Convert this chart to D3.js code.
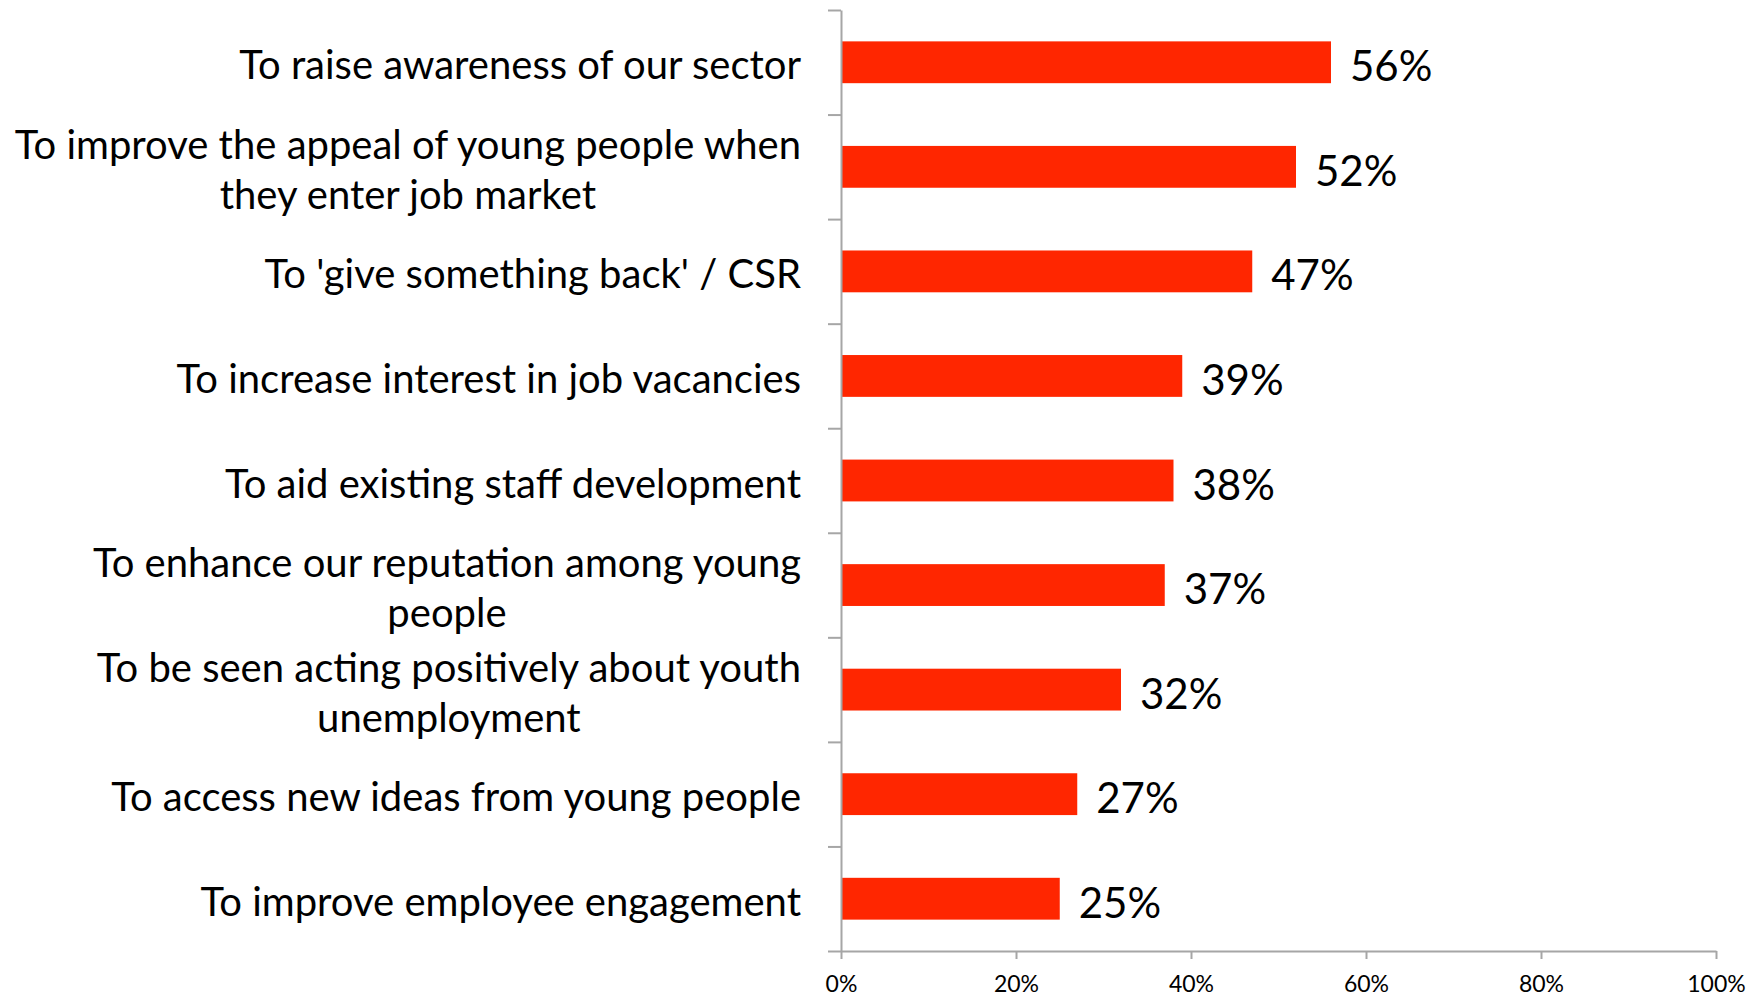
<!DOCTYPE html>
<html>
<head>
<meta charset="utf-8">
<script src="https://cdn.jsdelivr.net/npm/d3@7"></script>
<style>
  html, body { margin: 0; padding: 0; background: #fff; }
  svg { display: block; }
  .cat { font-family: Lato, "Open Sans", sans-serif; font-size: 40px; fill: #000; }
  .val { font-family: Lato, "Open Sans", sans-serif; font-size: 42px; fill: #000; }
  .axis text { font-family: Lato, "Open Sans", sans-serif; font-size: 23px; fill: #000; }
  .axis path, .axis line { stroke: #a6a6a6; stroke-width: 2; }
</style>
</head>
<body>
<svg id="chart" width="1760" height="998"></svg>
<script>
// Reasons for engaging with young people, share of respondents
const categories = [
  ["To raise awareness of our sector"],
  ["To improve the appeal of young people when", "they enter job market"],
  ["To 'give something back' / CSR"],
  ["To increase interest in job vacancies"],
  ["To aid existing staff development"],
  ["To enhance our reputation among young", "people"],
  ["To be seen acting positively about youth", "unemployment"],
  ["To access new ideas from young people"],
  ["To improve employee engagement"]
];
const values = [0.56, 0.52, 0.47, 0.39, 0.38, 0.37, 0.32, 0.27, 0.25];
const xTicks = [0, 0.2, 0.4, 0.6, 0.8, 1.0];

const svg = d3.select("#chart");
const plot = { left: 841, right: 1716, top: 10, bottom: 951 };
const keys = categories.map(c => c.join(" "));

const x = d3.scaleLinear().domain([0, 1]).range([plot.left, plot.right]);
const y = d3.scaleBand().domain(keys).range([plot.top, plot.bottom])
  .paddingInner(0.6).paddingOuter(0.3);
// category boundaries for the left axis ticks
const yEdge = d3.scaleLinear().domain([0, keys.length]).range([plot.top, plot.bottom]);

// bars
svg.append("g").selectAll("rect")
  .data(values)
  .join("rect")
  .attr("x", x(0))
  .attr("y", (d, i) => y(keys[i]))
  .attr("width", d => x(d) - x(0))
  .attr("height", y.bandwidth())
  .attr("fill", "#ff2600");

// value labels
svg.append("g").selectAll("text")
  .data(values)
  .join("text")
  .attr("class", "val")
  .attr("x", d => x(d) + 19)
  .attr("y", (d, i) => y(keys[i]) + y.bandwidth() / 2 + 19)
  .text(d => d3.format(".0%")(d));

// left axis: line with ticks at each category boundary
svg.append("g")
  .attr("class", "axis")
  .attr("transform", `translate(${plot.left},0)`)
  .call(d3.axisLeft(yEdge).tickValues(d3.range(keys.length + 1)).tickSize(13).tickSizeOuter(0).tickFormat(""));

// bottom axis
const xAxis = svg.append("g")
  .attr("class", "axis")
  .attr("transform", `translate(0,${plot.bottom})`)
  .call(d3.axisBottom(x).tickValues(xTicks).tickSize(8).tickSizeOuter(0).tickFormat(d3.format(".0%")));
xAxis.selectAll("text").attr("y", 41).attr("dy", 0);

// category labels: right-aligned block, lines centred within it
const labelRight = 801;
const labels = svg.append("g");
categories.forEach((lines, i) => {
  const g = labels.append("g");
  const cy = y(keys[i]) + y.bandwidth() / 2;
  const lineH = 50;
  const texts = lines.map((t, j) => g.append("text")
    .attr("class", "cat")
    .attr("y", cy + 17 + (j - (lines.length - 1) / 2) * lineH)
    .text(t));
  const w = d3.max(texts, t => t.node().getComputedTextLength());
  texts.forEach(t => t.attr("x", labelRight - w / 2).attr("text-anchor", "middle"));
});
</script>
</body>
</html>
